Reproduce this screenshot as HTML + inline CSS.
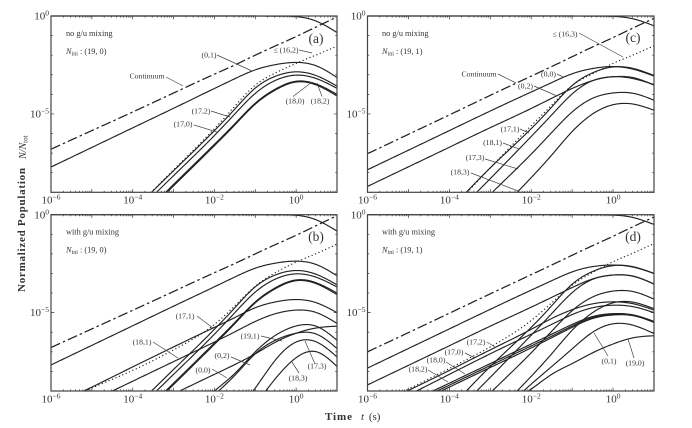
<!DOCTYPE html>
<html lang="en">
<head>
<meta charset="utf-8">
<title>Normalized Population vs Time</title>
<style>
html,body{margin:0;padding:0;background:#fff;width:692px;height:428px;overflow:hidden;}
svg{display:block;overflow:hidden;}
text{font-family:"Liberation Serif",serif;fill:#333;}
.ann{font-size:7.8px;text-anchor:middle;}
.note{font-size:8.3px;}
.letter{font-size:13.5px;text-anchor:middle;}
.lead{stroke:#444;stroke-width:.7;fill:none;}
</style>
</head>
<body>
<svg id="chart" xmlns="http://www.w3.org/2000/svg" width="692" height="428" viewBox="0 0 692 428">
  <rect x="0" y="0" width="692" height="428" fill="#fff"/>
  <g id="plots"></g>

  <text transform="translate(25,230) rotate(-90)" text-anchor="middle" font-weight="bold" font-size="11" textLength="124">Normalized Population</text>
  <text transform="translate(26,159) rotate(-90)" font-style="italic" font-size="10">N/N<tspan font-size="7" dy="1.5" font-style="normal">tot</tspan></text>
  <text x="325" y="420" font-weight="bold" font-size="11" textLength="27">Time</text>
  <text x="361" y="420" font-size="11"><tspan font-style="italic">t</tspan> <tspan dx="2">(s)</tspan></text>

  <g>
    <text class="note" x="66" y="36">no g/u mixing</text>
    <text class="note" x="66" y="54"><tspan font-style="italic">N</tspan><tspan font-size="6" dy="1.5">ini</tspan><tspan dy="-1.5"> : (19, 0)</tspan></text>
    <text class="letter" x="316" y="43">(a)</text>
    <text class="ann" x="209" y="57.5">(0,1)</text>
    <line class="lead" x1="217" y1="55" x2="252" y2="71"/>
    <text class="ann" x="286" y="52.5">≤ (16,2)</text>
    <line class="lead" x1="299" y1="50" x2="312" y2="53"/>
    <text class="ann" x="147" y="78.5">Continuum</text>
    <line class="lead" x1="166" y1="77" x2="183" y2="86"/>
    <text class="ann" x="201" y="113.5">(17,2)</text>
    <line class="lead" x1="211" y1="111" x2="230" y2="117"/>
    <text class="ann" x="183" y="126.5">(17,0)</text>
    <line class="lead" x1="194" y1="125" x2="217" y2="132"/>
    <text class="ann" x="295" y="103.5">(18,0)</text>
    <line class="lead" x1="293" y1="96.5" x2="312" y2="82"/>
    <text class="ann" x="320" y="103.5">(18,2)</text>
    <line class="lead" x1="322" y1="96.5" x2="317" y2="83"/>
  </g>

  <g>
    <text class="note" x="66" y="234.5">with g/u mixing</text>
    <text class="note" x="66" y="252.5"><tspan font-style="italic">N</tspan><tspan font-size="6" dy="1.5">ini</tspan><tspan dy="-1.5"> : (19, 0)</tspan></text>
    <text class="letter" x="316" y="241">(b)</text>
    <text class="ann" x="185" y="318.5">(17,1)</text>
    <line class="lead" x1="197" y1="316" x2="213" y2="328"/>
    <text class="ann" x="142" y="344.5">(18,1)</text>
    <line class="lead" x1="153" y1="342" x2="178" y2="358"/>
    <text class="ann" x="250" y="338.5">(19,1)</text>
    <line class="lead" x1="261" y1="336" x2="282" y2="341"/>
    <text class="ann" x="222" y="358">(0,2)</text>
    <line class="lead" x1="231" y1="357" x2="250" y2="365"/>
    <text class="ann" x="203" y="372.5">(0,0)</text>
    <line class="lead" x1="212" y1="369" x2="227" y2="378"/>
    <text class="ann" x="317" y="368.5">(17,3)</text>
    <line class="lead" x1="315" y1="364" x2="305" y2="341"/>
    <text class="ann" x="298" y="380.5">(18,3)</text>
    <line class="lead" x1="299" y1="373" x2="292" y2="362"/>
  </g>

  <g>
    <text class="note" x="382" y="36">no g/u mixing</text>
    <text class="note" x="382" y="54"><tspan font-style="italic">N</tspan><tspan font-size="6" dy="1.5">ini</tspan><tspan dy="-1.5"> : (19, 1)</tspan></text>
    <text class="letter" x="633" y="42">(c)</text>
    <text class="ann" x="565" y="36.5">≤ (16,3)</text>
    <line class="lead" x1="579" y1="33" x2="623" y2="57"/>
    <text class="ann" x="548.5" y="76.5">(0,0)</text>
    <line class="lead" x1="557" y1="74" x2="563" y2="77"/>
    <text class="ann" x="479" y="76.5">Continuum</text>
    <line class="lead" x1="498" y1="74" x2="516" y2="83"/>
    <text class="ann" x="525.5" y="88.5">(0,2)</text>
    <line class="lead" x1="534" y1="86" x2="557" y2="96"/>
    <text class="ann" x="510" y="131.5">(17,1)</text>
    <line class="lead" x1="520" y1="129" x2="529" y2="133"/>
    <text class="ann" x="492.5" y="145">(18,1)</text>
    <line class="lead" x1="503" y1="143" x2="519" y2="149"/>
    <text class="ann" x="475" y="160">(17,3)</text>
    <line class="lead" x1="485" y1="159" x2="518" y2="169"/>
    <text class="ann" x="460" y="174.5">(18,3)</text>
    <line class="lead" x1="471" y1="173" x2="518" y2="191"/>
  </g>

  <g>
    <text class="note" x="382" y="234.5">with g/u mixing</text>
    <text class="note" x="382" y="252.5"><tspan font-style="italic">N</tspan><tspan font-size="6" dy="1.5">ini</tspan><tspan dy="-1.5"> : (19, 1)</tspan></text>
    <text class="letter" x="633" y="241">(d)</text>
    <text class="ann" x="476" y="344.5">(17,2)</text>
    <line class="lead" x1="487" y1="342" x2="495" y2="347"/>
    <text class="ann" x="454" y="354.5">(17,0)</text>
    <line class="lead" x1="465" y1="353" x2="475" y2="358"/>
    <text class="ann" x="436" y="362.5">(18,0)</text>
    <line class="lead" x1="446" y1="362" x2="465" y2="374"/>
    <text class="ann" x="418" y="371.5">(18,2)</text>
    <line class="lead" x1="428" y1="370" x2="448" y2="382"/>
    <text class="ann" x="609" y="363.5">(0,1)</text>
    <line class="lead" x1="608" y1="356" x2="594" y2="333"/>
    <text class="ann" x="635" y="365.5">(19,0)</text>
    <line class="lead" x1="634" y1="358" x2="628" y2="339"/>
  </g>
</svg>

<script>
// Shared sample times, log10(t / s)
const logTimes = [-6, -5, -4, -3, -2, -1.5, -1, -0.5, 0, 0.5, 1];
// Axis tick labels (decade exponents)
const xTickExponents = [-6, -4, -2, 0];
const yTickExponents = [0, -5];

// Values: log10(N / Ntot) at logTimes
const aContinuum = [-6.8, -5.85, -4.9, -3.93, -2.97, -2.5, -2.0, -1.52, -1.05, -0.55, -0.05];
const aInitial = [0, 0, 0, 0, 0, 0, 0, -0.01, -0.03, -0.27, -0.84];
const aLe162 = [-14, -12, -9.95, -7.85, -5.75, -4.6, -3.53, -2.9, -2.42, -1.98, -1.54];
const a01 = [-7.71, -6.71, -5.71, -4.71, -3.7, -3.2, -2.75, -2.48, -2.37, -2.55, -3.14];
const a172 = [-14, -12, -9.95, -7.9, -5.85, -4.75, -3.68, -3.07, -2.85, -3.05, -3.58];
const a170 = [-14.3, -12.25, -10.2, -8.15, -6.1, -5.0, -3.95, -3.28, -3.02, -3.2, -3.69];
const a180 = [-14.75, -12.7, -10.65, -8.6, -6.55, -5.5, -4.45, -3.72, -3.33, -3.48, -4.0];
const a182 = [-14.8, -12.77, -10.72, -8.67, -6.62, -5.56, -4.5, -3.77, -3.37, -3.53, -4.08];

const bContinuum = [-6.78, -5.83, -4.88, -3.92, -2.96, -2.49, -2.0, -1.52, -1.05, -0.55, -0.05];
const bInitial = [0, 0, 0, 0, 0, 0, 0, -0.01, -0.03, -0.27, -0.84];
const bLe = [-9.85, -8.85, -7.95, -6.9, -5.6, -4.65, -3.65, -2.95, -2.42, -1.98, -1.5];
const b01 = [-7.67, -6.67, -5.67, -4.67, -3.68, -3.18, -2.73, -2.47, -2.37, -2.55, -3.12];
const b172 = [-14, -12, -9.95, -7.9, -5.85, -4.75, -3.68, -3.07, -2.85, -3.05, -3.58];
const b170 = [-14.3, -12.25, -10.2, -8.15, -6.1, -5.0, -3.95, -3.28, -3.02, -3.2, -3.69];
const b180 = [-14.75, -12.7, -10.65, -8.6, -6.55, -5.5, -4.45, -3.72, -3.33, -3.48, -4.0];
const b182 = [-14.8, -12.77, -10.72, -8.67, -6.62, -5.56, -4.5, -3.77, -3.37, -3.53, -4.08];
const b171 = [-9.8, -8.8, -7.77, -6.75, -5.75, -5.25, -4.75, -4.45, -4.33, -4.5, -5.0];
const b181 = [-10.5, -9.5, -8.5, -7.5, -6.5, -5.98, -5.45, -5.05, -4.87, -5.0, -5.55];
const b02 = [-12.15, -11.15, -10.15, -9.15, -8.15, -7.65, -7.1, -6.5, -6.05, -5.78, -5.69];
const b191 = [-17, -15, -13, -11, -9, -8.1, -7.0, -6.15, -5.68, -5.7, -6.41];
const b00 = [-17.3, -15.3, -13.3, -11.3, -9.2, -8.2, -7.1, -6.4, -6.05, -6.1, -6.83];
const b173 = [-22.8, -20, -17.2, -14.4, -11.6, -10.2, -8.85, -7.4, -6.5, -6.5, -7.26];
const b183 = [-23.2, -20.5, -17.8, -15.1, -12.4, -11.05, -9.7, -8.35, -7.3, -7.0, -7.75];

const cContinuum = [-7.03, -6.04, -5.05, -4.05, -3.07, -2.58, -2.08, -1.58, -1.1, -0.6, -0.12];
const cInitial = [0, 0, 0, 0, 0, 0, 0, -0.01, -0.02, -0.15, -0.5];
const cLe163 = [-14, -12, -9.95, -7.75, -5.6, -4.55, -3.55, -2.95, -2.42, -1.98, -1.52];
const c00 = [-7.85, -6.85, -5.85, -4.85, -3.88, -3.4, -2.95, -2.68, -2.58, -2.72, -3.07];
const c02 = [-8.7, -7.7, -6.7, -5.7, -4.72, -4.2, -3.7, -3.3, -3.1, -3.2, -3.5];
const c171 = [-14.1, -12, -9.9, -7.75, -5.75, -4.65, -3.55, -2.9, -2.6, -2.68, -3.04];
const c181 = [-14.6, -12.5, -10.4, -8.3, -6.15, -5.05, -3.98, -3.3, -3.1, -3.15, -3.53];
const c173 = [-15.4, -13.3, -11.2, -9.1, -7.05, -5.95, -4.9, -4.2, -3.93, -3.95, -4.3];
const c183 = [-16.9, -14.7, -12.55, -10.4, -8.25, -7.1, -5.9, -5.0, -4.53, -4.5, -4.81];

const dContinuum = [-7.0, -6.02, -5.03, -4.04, -3.06, -2.57, -2.07, -1.58, -1.1, -0.6, -0.12];
const dInitial = [0, 0, 0, 0, 0, 0, 0, -0.01, -0.02, -0.15, -0.5];
const dLe = [-9.9, -8.9, -7.85, -6.75, -5.4, -4.5, -3.6, -2.95, -2.4, -1.95, -1.47];
const d00 = [-7.83, -6.83, -5.83, -4.83, -3.85, -3.37, -2.92, -2.65, -2.57, -2.68, -3.0];
const d02 = [-8.69, -7.69, -6.69, -5.69, -4.72, -4.22, -3.72, -3.28, -3.08, -3.15, -3.54];
const dSteep1 = [-14.1, -12, -9.9, -7.75, -5.75, -4.65, -3.55, -2.9, -2.6, -2.66, -3.0];
const dSteep2 = [-14.6, -12.5, -10.4, -8.3, -6.15, -5.05, -3.98, -3.3, -3.08, -3.14, -3.54];
const dSteep3 = [-15.4, -13.3, -11.2, -9.1, -7.05, -5.95, -4.9, -4.2, -3.9, -3.93, -4.31];
const dSteep4 = [-16.9, -14.7, -12.55, -10.4, -8.25, -7.1, -5.9, -5.0, -4.5, -4.47, -4.8];
const d172 = [-9.97, -8.97, -7.95, -6.9, -5.85, -5.3, -4.85, -4.55, -4.45, -4.55, -4.87];
const d170 = [-10.2, -9.2, -8.15, -7.1, -6.1, -5.6, -5.1, -4.75, -4.62, -4.7, -5.0];
const d180 = [-10.6, -9.6, -8.6, -7.6, -6.6, -6.1, -5.6, -5.2, -5.05, -5.12, -5.45];
const d182 = [-10.7, -9.7, -8.7, -7.7, -6.7, -6.2, -5.68, -5.25, -5.08, -5.14, -5.48];
const dTriple = [-10.8, -9.8, -8.8, -7.8, -6.8, -6.28, -5.75, -5.3, -5.12, -5.16, -5.5];
const d01 = [-16.25, -14.35, -12.45, -10.55, -8.65, -7.75, -6.85, -6.0, -5.57, -5.65, -6.07];
const d190 = [-13.1, -12.05, -11, -9.95, -8.9, -8.15, -7.6, -7.05, -6.6, -6.28, -6.18];

const seriesA = [
  ['continuum', aContinuum, 'dashdot'], ['initial-state', aInitial, 'solid'], ['le-16-2', aLe162, 'dotted'],
  ['curve-0-1', a01, 'solid'], ['curve-17-2', a172, 'solid'], ['curve-17-0', a170, 'solid'],
  ['curve-18-0', a180, 'solid'], ['curve-18-2', a182, 'solid']
];
const seriesB = [
  ['continuum', bContinuum, 'dashdot'], ['initial-state', bInitial, 'solid'], ['le-higher-levels', bLe, 'dotted'],
  ['curve-0-1', b01, 'solid'], ['curve-17-2', b172, 'solid'], ['curve-17-0', b170, 'solid'],
  ['curve-18-0', b180, 'solid'], ['curve-18-2', b182, 'solid'], ['curve-17-1', b171, 'solid'],
  ['curve-18-1', b181, 'solid'], ['curve-0-2', b02, 'solid'], ['curve-19-1', b191, 'solid'],
  ['curve-0-0', b00, 'solid'], ['curve-17-3', b173, 'solid'], ['curve-18-3', b183, 'solid']
];
const seriesC = [
  ['continuum', cContinuum, 'dashdot'], ['initial-state', cInitial, 'solid'], ['le-16-3', cLe163, 'dotted'],
  ['curve-0-0', c00, 'solid'], ['curve-0-2', c02, 'solid'], ['curve-17-1', c171, 'solid'],
  ['curve-18-1', c181, 'solid'], ['curve-17-3', c173, 'solid'], ['curve-18-3', c183, 'solid']
];
const seriesD = [
  ['continuum', dContinuum, 'dashdot'], ['initial-state', dInitial, 'solid'], ['le-higher-levels', dLe, 'dotted'],
  ['curve-0-0', d00, 'solid'], ['curve-0-2', d02, 'solid'], ['curve-17-1', dSteep1, 'solid'],
  ['curve-18-1', dSteep2, 'solid'], ['curve-17-3', dSteep3, 'solid'], ['curve-18-3', dSteep4, 'solid'],
  ['curve-17-2', d172, 'solid'], ['curve-17-0', d170, 'solid'], ['curve-18-0', d180, 'solid'],
  ['curve-18-2', d182, 'solid'], ['curve-mixed-triple', dTriple, 'solid'], ['curve-0-1', d01, 'solid'],
  ['curve-19-0', d190, 'solid']
];

const NS = 'http://www.w3.org/2000/svg';
const plots = document.getElementById('plots');

function el(tag, parent) {
  const node = document.createElementNS(NS, tag);
  parent.appendChild(node);
  return node;
}

function drawPanel(id, left, top, width, height, series) {
  const xScale = function (logT) { return left + (logT + 6) / 7 * width; };
  const yScale = function (logN) { return top - logN / 9 * height; };
  const right = left + width;
  const bottom = top + height;

  const g = el('g', plots);
  
  

  // Series
  const lines = el('g', g);
  
  
  series.forEach(function (s) {
    const p = el('path', lines);
    
    
    p.setAttribute('d', curvePath(logTimes, s[1], xScale, yScale, top, bottom));
    p.setAttribute('fill', 'none');
    p.setAttribute('stroke', '#222');
    p.setAttribute('stroke-linejoin', 'round');
    if (s[2] === 'dashdot') {
      p.setAttribute('stroke-width', '1.25');
      p.setAttribute('stroke-dasharray', '10 3 2.5 3');
    } else if (s[2] === 'dotted') {
      p.setAttribute('stroke-width', '1.25');
      p.setAttribute('stroke-dasharray', '0.1 3.6');
      p.setAttribute('stroke-linecap', 'round');
    } else {
      p.setAttribute('stroke-width', '1.15');
    }
  });

  // Ticks
  let d = '';
  for (let e = -6; e <= 1; e++) {
    const X = xScale(e);
    d += 'M' + X + ' ' + bottom + 'v-3.2M' + X + ' ' + top + 'v3.2';
    if (e < 1) {
      for (let m = 2; m < 10; m++) {
        const x2 = xScale(e + Math.log10(m));
        d += 'M' + x2 + ' ' + bottom + 'v-1.6M' + x2 + ' ' + top + 'v1.6';
      }
    }
  }
  for (let e = 0; e >= -9; e--) {
    const Y = yScale(e);
    const len = e === -5 ? 3.2 : 1.8;
    d += 'M' + left + ' ' + Y + 'h' + len + 'M' + right + ' ' + Y + 'h-' + len;
  }
  const ticks = el('path', g);
  
  
  ticks.setAttribute('d', d);
  ticks.setAttribute('stroke', '#333');
  ticks.setAttribute('stroke-width', '.7');
  ticks.setAttribute('fill', 'none');

  // Frame
  const frame = el('rect', g);
  
  
  frame.setAttribute('x', left);
  frame.setAttribute('y', top);
  frame.setAttribute('width', width);
  frame.setAttribute('height', height);
  frame.setAttribute('fill', 'none');
  frame.setAttribute('stroke', '#444');
  frame.setAttribute('stroke-width', '1.2');

  // Tick labels
  xTickExponents.forEach(function (e) {
    const t = powerLabel(g, e, xScale(e), bottom + 11.3, 'middle');
    
    
  });
  yTickExponents.forEach(function (e) {
    const t = powerLabel(g, e, left - 2, yScale(e) + 3.6, 'end');
    
    
  });
}

function powerLabel(parent, exponent, x, y, anchor) {
  const t = el('text', parent);
  t.setAttribute('x', x);
  t.setAttribute('y', y);
  t.setAttribute('text-anchor', anchor);
  t.setAttribute('font-size', '11');
  t.setAttribute('fill', '#333');
  t.appendChild(document.createTextNode('10'));
  const sup = el('tspan', t);
  sup.setAttribute('font-size', '7.5');
  sup.setAttribute('dy', '-4');
  sup.textContent = String(exponent).replace('-', '\u2212');
  return t;
}

// Natural cubic spline through (xs, ys) in log-log space
function splineSecondDerivs(xs, ys) {
  const n = xs.length;
  const c = new Array(n).fill(0);
  const u = new Array(n).fill(0);
  for (let i = 1; i < n - 1; i++) {
    const sig = (xs[i] - xs[i - 1]) / (xs[i + 1] - xs[i - 1]);
    const p = sig * c[i - 1] + 2;
    c[i] = (sig - 1) / p;
    const slope = (ys[i + 1] - ys[i]) / (xs[i + 1] - xs[i]) - (ys[i] - ys[i - 1]) / (xs[i] - xs[i - 1]);
    u[i] = (6 * slope / (xs[i + 1] - xs[i - 1]) - sig * u[i - 1]) / p;
  }
  for (let i = n - 2; i >= 0; i--) {
    c[i] = c[i] * c[i + 1] + u[i];
  }
  return c;
}

function curvePath(ts, vs, xScale, yScale, top, bottom) {
  const d2 = splineSecondDerivs(ts, vs);
  let d = '';
  let prevX = null;
  let prevY = null;
  let pen = false;
  for (let i = 0; i < ts.length - 1; i++) {
    const h = ts[i + 1] - ts[i];
    const steps = Math.ceil(h * 40);
    for (let k = (i === 0 ? 0 : 1); k <= steps; k++) {
      const a = 1 - k / steps;
      const b = k / steps;
      const v = a * vs[i] + b * vs[i + 1] + ((a * a * a - a) * d2[i] + (b * b * b - b) * d2[i + 1]) * h * h / 6;
      const x = xScale(a * ts[i] + b * ts[i + 1]);
      const y = Math.max(yScale(v), top);
      if (y <= bottom) {
        if (!pen) {
          let sx = x;
          let sy = y;
          if (prevY !== null) {
            sx = prevX + (x - prevX) * (bottom - prevY) / (y - prevY);
            sy = bottom;
          }
          d += 'M' + sx.toFixed(2) + ' ' + sy.toFixed(2);
          pen = true;
        }
        d += 'L' + x.toFixed(2) + ' ' + y.toFixed(2);
      } else {
        pen = false;
      }
      prevX = x;
      prevY = y;
    }
  }
  return d;
}

drawPanel('a', 51, 16, 286, 176.3, seriesA);
drawPanel('b', 51, 214.7, 286, 176.3, seriesB);
drawPanel('c', 367.5, 16, 286.5, 176.3, seriesC);
drawPanel('d', 367.5, 214.7, 286.5, 176.3, seriesD);
</script>
</body>
</html>
